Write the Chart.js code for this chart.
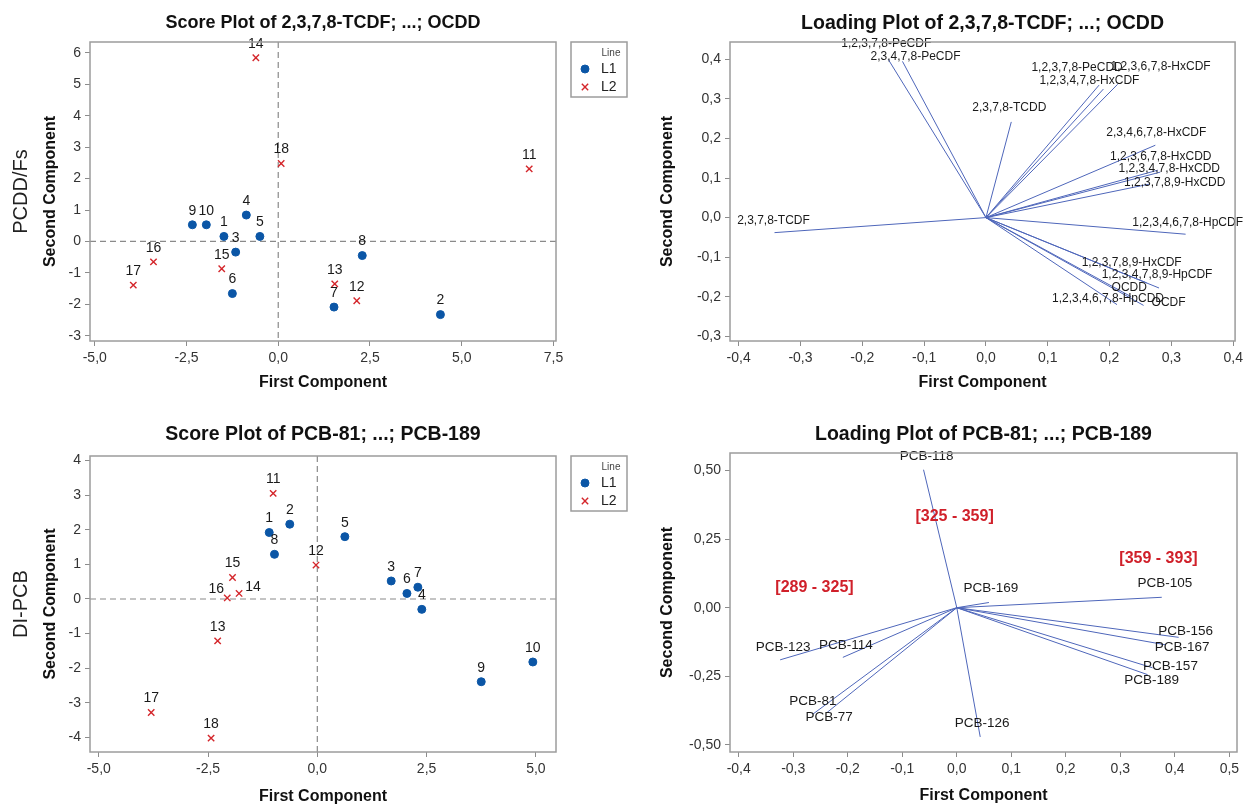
<!DOCTYPE html>
<html>
<head>
  <meta charset="UTF-8">
  <title>PCA score and loading plots</title>
  <script src="https://cdn.jsdelivr.net/npm/chart.js"></script>
  <style>
    html, body { margin: 0; padding: 0; background: #fff; overflow: hidden; }
    canvas { position: absolute; }
  </style>
</head>
<body>
  <canvas id="c1" width="640" height="400" style="left:0;top:0"></canvas>
  <canvas id="c2" width="607" height="400" style="left:640px;top:0"></canvas>
  <canvas id="c3" width="640" height="410" style="left:0;top:400px"></canvas>
  <canvas id="c4" width="607" height="410" style="left:640px;top:400px"></canvas>

  <script>
    // score plot PCDD/Fs (samples 1-10 = L1, 11-18 = L2)
    const pcddL1Ids = [1, 2, 3, 4, 5, 6, 7, 8, 9, 10];
    const pcddL1X = [-1.48, 4.42, -1.16, -0.87, -0.50, -1.25, 1.52, 2.29, -2.34, -1.96];
    const pcddL1Y = [0.16, -2.33, -0.34, 0.84, 0.16, -1.66, -2.09, -0.45, 0.53, 0.53];
    const pcddL2Ids = [11, 12, 13, 14, 15, 16, 17, 18];
    const pcddL2X = [6.84, 2.14, 1.54, -0.61, -1.54, -3.40, -3.95, 0.08];
    const pcddL2Y = [2.31, -1.89, -1.35, 5.85, -0.87, -0.65, -1.39, 2.48];

    // score plot DI-PCB
    const pcbL1Ids = [1, 2, 3, 4, 5, 6, 7, 8, 9, 10];
    const pcbL1X = [-1.10, -0.63, 1.69, 2.39, 0.63, 2.05, 2.30, -0.98, 3.75, 4.93];
    const pcbL1Y = [1.92, 2.16, 0.52, -0.30, 1.80, 0.16, 0.34, 1.29, -2.39, -1.82];
    const pcbL2Ids = [11, 12, 13, 14, 15, 16, 17, 18];
    const pcbL2X = [-1.01, -0.03, -2.28, -1.79, -1.94, -2.06, -3.80, -2.43];
    const pcbL2Y = [3.05, 0.98, -1.21, 0.16, 0.62, 0.03, -3.28, -4.02];

    // loadings PCDD/Fs
    const pcddNames = ['2,3,7,8-TCDF', '1,2,3,7,8-PeCDF', '2,3,4,7,8-PeCDF', '2,3,7,8-TCDD',
      '1,2,3,7,8-PeCDD', '1,2,3,4,7,8-HxCDF', '1,2,3,6,7,8-HxCDF', '2,3,4,6,7,8-HxCDF',
      '1,2,3,6,7,8-HxCDD', '1,2,3,4,7,8-HxCDD', '1,2,3,7,8,9-HxCDD', '1,2,3,4,6,7,8-HpCDF',
      '1,2,3,7,8,9-HxCDF', '1,2,3,4,7,8,9-HpCDF', 'OCDD', '1,2,3,4,6,7,8-HpCDD', 'OCDF'];
    const pcddPC1 = [-0.342, -0.158, -0.135, 0.041, 0.183, 0.190, 0.213, 0.274, 0.278, 0.282, 0.265, 0.323, 0.260, 0.280, 0.235, 0.212, 0.255];
    const pcddPC2 = [-0.038, 0.400, 0.395, 0.242, 0.335, 0.325, 0.337, 0.183, 0.120, 0.115, 0.085, -0.042, -0.165, -0.178, -0.200, -0.220, -0.222];

    // loadings DI-PCB
    const pcbNames = ['PCB-77', 'PCB-81', 'PCB-105', 'PCB-114', 'PCB-118', 'PCB-123',
      'PCB-126', 'PCB-156', 'PCB-157', 'PCB-167', 'PCB-169', 'PCB-189'];
    const pcbPC1 = [-0.238, -0.264, 0.376, -0.209, -0.061, -0.324, 0.043, 0.407, 0.359, 0.382, 0.059, 0.350];
    const pcbPC2 = [-0.382, -0.388, 0.038, -0.181, 0.503, -0.190, -0.471, -0.108, -0.219, -0.135, 0.019, -0.244];

    // red range notes on the PCB loading plot
    const rangeText = ['[289 - 325]', '[325 - 359]', '[359 - 393]'];
    const rangeX = [-0.261, -0.004, 0.370];
    const rangeY = [0.075, 0.333, 0.179];

    // tick values
    const scoreTopX = [-5, -2.5, 0, 2.5, 5, 7.5];
    const scoreTopY = [-3, -2, -1, 0, 1, 2, 3, 4, 5, 6];
    const scoreBotX = [-5, -2.5, 0, 2.5, 5];
    const scoreBotY = [-4, -3, -2, -1, 0, 1, 2, 3, 4];
    const loadTopX = [-0.4, -0.3, -0.2, -0.1, 0, 0.1, 0.2, 0.3, 0.4];
    const loadTopY = [-0.3, -0.2, -0.1, 0, 0.1, 0.2, 0.3, 0.4];
    const loadBotX = [-0.4, -0.3, -0.2, -0.1, 0, 0.1, 0.2, 0.3, 0.4, 0.5];
    const loadBotY = [-0.5, -0.25, 0, 0.25, 0.5];

    // label nudges (pixels), kept apart from the data
    const pcddNameShift = [[-1, -12], [-2, -16], [13, -5], [-2, -14], [-22, -17], [-14, -8], [43, -18], [1, -13],
      [3, -13], [9, -3], [25, -1], [2, -12], [-15, -20], [-2, -13], [-2, -9], [-9, -6], [25, -3]];
    const pcbNameShift = [[2, 5], [0, -13], [3, -14], [3, -12], [3, -13], [3, -13], [2, -14], [7, -6], [18, -2], [17, 3], [2, -14], [4, 6]];
    const pcbIdShift = { 14: [14, -6], 16: [-11, -9] };

    const FONT = '"Liberation Sans", Arial, Helvetica, sans-serif';
    Chart.defaults.font.family = FONT;
    const BLUE = '#0b56a6', RED = '#d4262b', VEC = '#4e66ba', FRAME = '#9c9c9c';

    function fmt(dec) {
      return v => Number(v).toFixed(dec).replace('.', ',');
    }

    function axis(pos, min, max, ticks, dec, title, titlePad, size) {
      return {
        type: 'linear', position: pos, min: min, max: max,
        afterBuildTicks: s => { s.ticks = ticks.map(v => ({ value: v })); },
        afterFit: s => { if (pos === 'left') s.width = size; else s.height = size; },
        grid: { drawOnChartArea: false, drawTicks: true, tickLength: 5, color: '#8c8c8c' },
        border: { display: false },
        ticks: { callback: fmt(dec), color: '#333', font: { size: 14 }, padding: 4, autoSkip: false, maxRotation: 0 },
        title: { display: true, text: title, color: '#111', font: { size: 16, weight: 'bold' }, padding: titlePad }
      };
    }

    function scoreSets(ids1, x1, y1, ids2, x2, y2, shift) {
      return [
        { label: 'L1', data: x1.map((x, i) => ({ x: x, y: y1[i] })), pointStyle: 'circle', pointRadius: 4,
          backgroundColor: BLUE, borderColor: BLUE, borderWidth: 1, tags: ids1, tagFont: '14px ' + FONT, tagShift: {} },
        { label: 'L2', data: x2.map((x, i) => ({ x: x, y: y2[i] })), pointStyle: 'crossRot', pointRadius: 4.5,
          backgroundColor: RED, borderColor: RED, borderWidth: 1.4, tags: ids2, tagFont: '14px ' + FONT, tagShift: shift || {} }
      ];
    }

    function vectorSets(names, pc1, pc2, shifts, size) {
      return names.map((n, i) => ({
        label: n, showLine: true, data: [{ x: 0, y: 0 }, { x: pc1[i], y: pc2[i] }],
        borderColor: VEC, borderWidth: 1, pointRadius: 0,
        tags: [null, n], tagFont: size + 'px ' + FONT, tagShift: { [n]: shifts[i] }
      }));
    }

    const framePlugin = {
      id: 'frame',
      beforeDatasetsDraw(chart, args, opts) {
        if (!opts.zeroLines) return;
        const { ctx, chartArea: a, scales: { x, y } } = chart;
        const x0 = x.getPixelForValue(0), y0 = y.getPixelForValue(0);
        ctx.save();
        ctx.strokeStyle = '#8a8a8a';
        ctx.lineWidth = 1.2;
        ctx.setLineDash([6, 4]);
        ctx.beginPath();
        ctx.moveTo(x0, a.top); ctx.lineTo(x0, a.bottom);
        ctx.moveTo(a.left, y0); ctx.lineTo(a.right, y0);
        ctx.stroke();
        ctx.restore();
      },
      afterDatasetsDraw(chart, args, opts) {
        const { ctx, scales: { x, y } } = chart;
        ctx.save();
        ctx.fillStyle = '#1a1a1a';
        ctx.textAlign = 'center';
        ctx.textBaseline = 'middle';
        chart.data.datasets.forEach((ds, i) => {
          const meta = chart.getDatasetMeta(i);
          ctx.font = ds.tagFont;
          meta.data.forEach((el, j) => {
            const tag = ds.tags[j];
            if (tag === null || tag === undefined) return;
            const sh = ds.tagShift[tag] || [0, -14];
            ctx.fillText(String(tag), el.x + sh[0], el.y + sh[1]);
          });
        });
        if (opts.notes) {
          ctx.fillStyle = '#d0202a';
          ctx.font = 'bold 16px ' + FONT;
          opts.notes.text.forEach((t, k) => {
            ctx.fillText(t, x.getPixelForValue(opts.notes.x[k]), y.getPixelForValue(opts.notes.y[k]));
          });
        }
        ctx.restore();
      },
      afterDraw(chart, args, opts) {
        const { ctx, chartArea: a } = chart;
        ctx.save();
        ctx.strokeStyle = FRAME;
        ctx.lineWidth = 1.5;
        ctx.strokeRect(a.left, a.top, a.right - a.left, a.bottom - a.top);
        if (opts.side) {
          ctx.translate(21, (a.top + a.bottom) / 2);
          ctx.rotate(-Math.PI / 2);
          ctx.fillStyle = '#222';
          ctx.font = '20px ' + FONT;
          ctx.textAlign = 'center';
          ctx.textBaseline = 'middle';
          ctx.fillText(opts.side, 0, 0);
          ctx.setTransform(1, 0, 0, 1, 0, 0);
        }
        if (opts.legend) {
          const L = a.right + 15, T = a.top, W = 56, H = 55;
          ctx.strokeStyle = FRAME;
          ctx.lineWidth = 1.5;
          ctx.strokeRect(L, T, W, H);
          ctx.fillStyle = '#444';
          ctx.font = '10px ' + FONT;
          ctx.textAlign = 'center';
          ctx.textBaseline = 'middle';
          ctx.fillText('Line', L + 40, T + 11);
          chart.data.datasets.forEach((ds, i) => {
            const yy = T + 27 + i * 18;
            ctx.fillStyle = ds.backgroundColor;
            ctx.strokeStyle = ds.borderColor;
            ctx.lineWidth = ds.borderWidth;
            Chart.helpers.drawPoint(ctx, { pointStyle: ds.pointStyle, radius: ds.pointRadius, borderWidth: ds.borderWidth }, L + 14, yy);
            ctx.fillStyle = '#222';
            ctx.font = '14px ' + FONT;
            ctx.textAlign = 'left';
            ctx.fillText(ds.label, L + 30, yy);
          });
        }
        ctx.restore();
      }
    };

    function makeChart(id, datasets, cfg) {
      return new Chart(document.getElementById(id), {
        type: 'scatter',
        data: { datasets: datasets },
        options: {
          responsive: false,
          animation: false,
          layout: { padding: { left: 0, top: 0, bottom: 0, right: cfg.padRight } },
          plugins: {
            legend: { display: false },
            tooltip: { enabled: false },
            title: { display: true, text: cfg.title, fullSize: false, color: '#111',
                     font: { size: cfg.titleSize, weight: 'bold' }, padding: cfg.titlePad },
            frame: { zeroLines: cfg.zeroLines, legend: cfg.legend, side: cfg.side, notes: cfg.notes }
          },
          scales: { x: cfg.x, y: cfg.y }
        },
        plugins: [framePlugin]
      });
    }

    makeChart('c1', scoreSets(pcddL1Ids, pcddL1X, pcddL1Y, pcddL2Ids, pcddL2X, pcddL2Y), {
      title: 'Score Plot of 2,3,7,8-TCDF; ...; OCDD', titleSize: 18, titlePad: { top: 12.5, bottom: 7.9 }, padRight: 84,
      zeroLines: true, legend: true, side: 'PCDD/Fs',
      x: axis('bottom', -5.13, 7.57, scoreTopX, 1, 'First Component', { top: 0, bottom: 7.4 }, 59),
      y: axis('left', -3.17, 6.35, scoreTopY, 0, 'Second Component', { top: 41, bottom: 0 }, 90)
    });

    makeChart('c2', vectorSets(pcddNames, pcddPC1, pcddPC2, pcddNameShift, 12), {
      title: 'Loading Plot of 2,3,7,8-TCDF; ...; OCDD', titleSize: 19.5, titlePad: { top: 11.6, bottom: 7 }, padRight: 10,
      x: axis('bottom', -0.414, 0.403, loadTopX, 1, 'First Component', { top: 0, bottom: 7.4 }, 59),
      y: axis('left', -0.312, 0.444, loadTopY, 1, 'Second Component', { top: 18, bottom: 0 }, 90)
    });

    makeChart('c3', scoreSets(pcbL1Ids, pcbL1X, pcbL1Y, pcbL2Ids, pcbL2X, pcbL2Y, pcbIdShift), {
      title: 'Score Plot of PCB-81; ...; PCB-189', titleSize: 19.5, titlePad: { top: 23.3, bottom: 9.3 }, padRight: 84,
      zeroLines: true, legend: true, side: 'DI-PCB',
      x: axis('bottom', -5.2, 5.46, scoreBotX, 1, 'First Component', { top: 0, bottom: 3.4 }, 58),
      y: axis('left', -4.42, 4.13, scoreBotY, 0, 'Second Component', { top: 41, bottom: 0 }, 90)
    });

    makeChart('c4', vectorSets(pcbNames, pcbPC1, pcbPC2, pcbNameShift, 13.5), {
      title: 'Loading Plot of PCB-81; ...; PCB-189', titleSize: 19.5, titlePad: { top: 23.3, bottom: 6.3 }, padRight: 10,
      notes: { text: rangeText, x: rangeX, y: rangeY },
      x: axis('bottom', -0.416, 0.514, loadBotX, 1, 'First Component', { top: 0, bottom: 4.4 }, 58),
      y: axis('left', -0.526, 0.564, loadBotY, 2, 'Second Component', { top: 18, bottom: 0 }, 90)
    });
  </script>
</body>
</html>
